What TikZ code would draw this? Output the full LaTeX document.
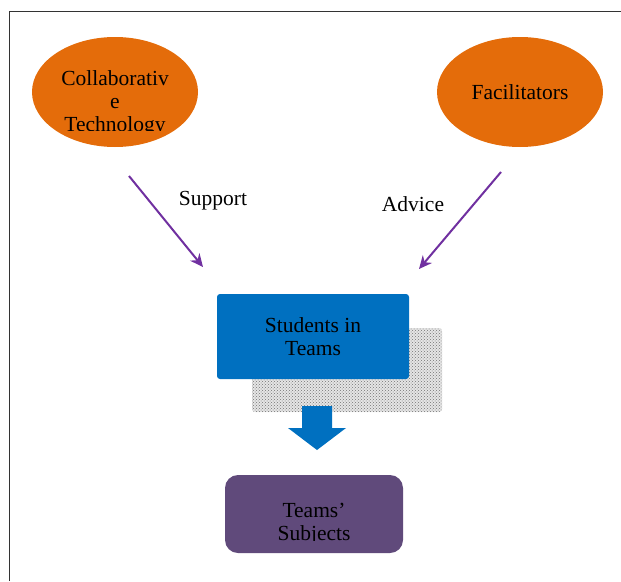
\documentclass[tikz,border=0pt]{standalone}
\usepackage{fontspec}
\setmainfont{Liberation Serif}
\usetikzlibrary{shapes.geometric,arrows.meta,patterns}
\definecolor{ovalorange}{HTML}{E46C0A}
\definecolor{teamblue}{HTML}{0070C0}
\definecolor{subjpurple}{HTML}{604A7B}
\definecolor{linkpurple}{HTML}{7030A0}
\begin{document}
\begin{tikzpicture}[x=1pt,y=-1pt,
  oval/.style={ellipse, fill=ovalorange, draw=none, minimum width=166pt, minimum height=110pt},
  txt/.style={align=center, font=\fontsize{21.5}{23}\selectfont},
  link/.style={draw=linkpurple, line width=2pt, -{Stealth[length=13pt,width=12pt]}}]
\useasboundingbox (0,0) rectangle (621,581);
\draw [black!80, line width=1pt] (9,581) -- (9,11.5) -- (621,11.5);
\node [oval] (tech) at (115,92) {};
\node [oval] (facil) at (520,92) {};
\begin{scope}
\clip (0,0) rectangle (621,130.5);
\node [txt] (techtxt) at (115,103) {Collaborativ\\e\\Technology};
\end{scope}
\node [txt] (faciltxt) at (520,92) {Facilitators};
\coordinate (supfrom) at (129,176);
\coordinate (supto) at (203,267);
\coordinate (advfrom) at (501,172);
\coordinate (advto) at (419,269);
\draw [link] (supfrom) -- (supto);
\draw [link] (advfrom) -- (advto);
\node [txt] (support) at (213,201) {Support};
\node [txt] (advice) at (413,204) {Advice};
\fill [black!10, rounded corners=3pt] (252,328) rectangle (442,412);
\fill [pattern=crosshatch dots, pattern color=black!55, rounded corners=3pt] (252,328) rectangle (442,412);
\node [txt, fill=teamblue, rounded corners=3pt, minimum width=192pt, minimum height=85pt, inner sep=0pt] (students) at (313,336.5) {Students in\\Teams};
\fill [teamblue] (302,406) -- (332,406) -- (332,428) -- (346,428) -- (317,450) -- (288,428) -- (302,428) -- cycle;
\node [fill=subjpurple, rounded corners=13pt, minimum width=178pt, minimum height=78pt] (subjects) at (314,514) {};
\begin{scope}
\clip (0,0) rectangle (621,540);
\node [txt] (subjtxt) at (314,524) {Teams'\\Subjects};
\end{scope}
\end{tikzpicture}
\end{document}
